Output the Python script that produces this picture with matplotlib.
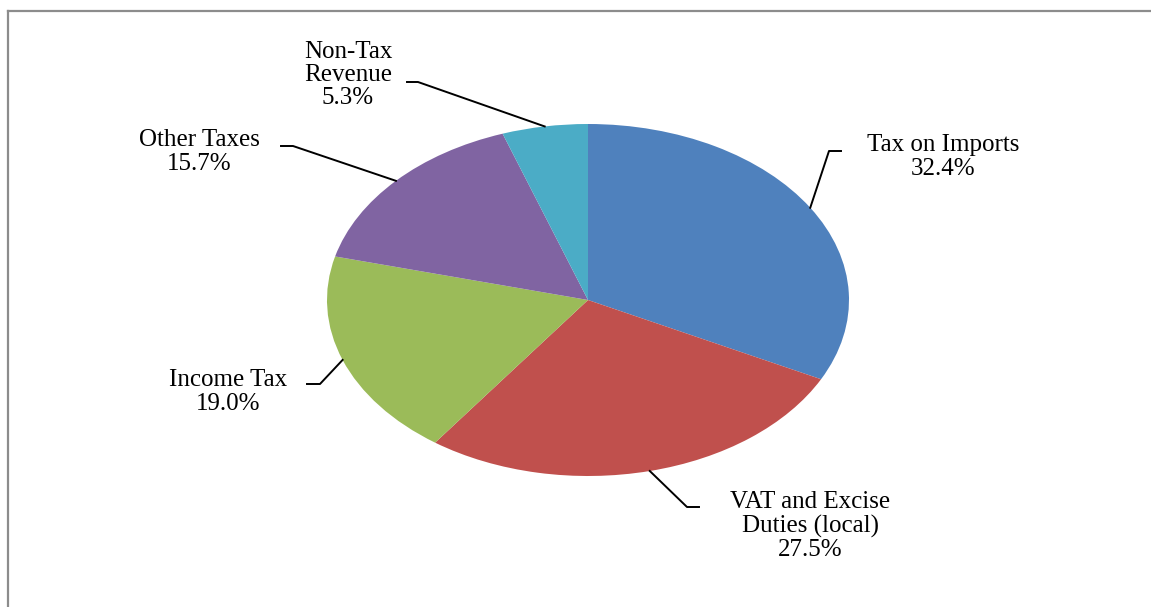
import numpy as np
import matplotlib
matplotlib.use("Agg")
import matplotlib.pyplot as plt
from matplotlib.lines import Line2D

categories = ["Tax on Imports", "VAT and Excise\nDuties (local)", "Income Tax",
              "Other Taxes", "Non-Tax\nRevenue"]
shares = [32.4, 27.5, 19.0, 15.7, 5.3]
colors = ["#4F81BD", "#C0504D", "#9BBB59", "#8064A2", "#4BACC6"]

W, H = 1151, 607

# label layout in pixels (from top-left): text centre, elbow, end of leader
label_pos = [(943, 157), (810, 526), (228, 392), (199, 152), (348, 75)]
elbows = [(829, 151), (687, 507), (320, 384), (293, 146), (418, 82)]
ends = [(841, 151), (699, 507), (307, 384), (281, 146), (407, 82)]


def px(x, y):
    return x / W, 1 - y / H


fig = plt.figure(figsize=(W / 100, H / 100), dpi=100)

# pie is stretched into an ellipse in the original
left, top, right, bottom = 327, 124, 849, 476
ax = fig.add_axes([left / W, 1 - bottom / H, (right - left) / W, (bottom - top) / H])
wedges, _ = ax.pie(shares, colors=colors, startangle=90, counterclock=False,
                   radius=1, wedgeprops=dict(linewidth=0))
ax.set_aspect("auto")
ax.set_xlim(-1, 1)
ax.set_ylim(-1, 1)
ax.axis("off")

fig.canvas.draw()
to_fig = ax.transData + fig.transFigure.inverted()

for w, cat, val, tp, el, en in zip(wedges, categories, shares, label_pos, elbows, ends):
    a = np.deg2rad((w.theta1 + w.theta2) / 2)
    anchor = to_fig.transform((np.cos(a), np.sin(a)))
    e1 = px(*el)
    e2 = px(*en)
    fig.add_artist(Line2D([anchor[0], e1[0], e2[0]], [anchor[1], e1[1], e2[1]],
                          color="black", lw=1.4, transform=fig.transFigure))
    tx, ty = px(*tp)
    fig.text(tx, ty, f"{cat}\n{val:.1f}%", ha="center", va="center",
             multialignment="center", fontsize=18, family="Liberation Serif",
             linespacing=1.08)

# chart frame
fig.add_artist(Line2D([8 / W, 8 / W], [0, 1 - 11 / H], color="#8c8c8c", lw=1.6,
                      transform=fig.transFigure))
fig.add_artist(Line2D([8 / W, 1], [1 - 11 / H, 1 - 11 / H], color="#8c8c8c", lw=1.6,
                      transform=fig.transFigure))

fig.savefig("out.png", dpi=100)
